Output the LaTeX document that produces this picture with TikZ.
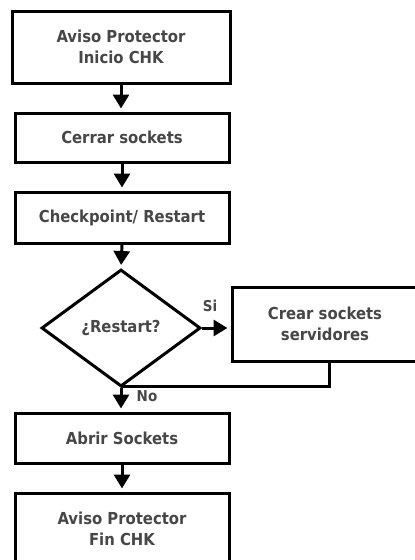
\documentclass[tikz,border=0pt]{standalone}
\usepackage{fontspec}
\setmainfont{DejaVu Sans}[FakeStretch=0.9]
\usetikzlibrary{shapes.geometric,arrows.meta}
\begin{document}
\begin{tikzpicture}[x=1pt,y=-1pt,
  every node/.style={font=\fontsize{16.5}{21.5}\selectfont\bfseries, text=black!72},
  procbox/.style={draw=black, line width=3pt, fill=white, align=center, inner sep=0pt},
  decis/.style={draw=black, line width=3pt, diamond, inner sep=0pt, aspect=1.36, minimum width=159pt, minimum height=117pt},
  flow/.style={draw=black, line width=3pt, shorten >=3pt, -{Triangle[length=14pt,width=16pt]}},
  plain/.style={draw=black, line width=3pt},
  lbl/.style={font=\fontsize{15}{17}\selectfont\bfseries}]
\useasboundingbox (0,0) rectangle (415,560);
\fill[white] (0,0) rectangle (415,560);
\clip (0,0) rectangle (415,560);
\node[procbox, minimum width=218pt, minimum height=72pt] (b1) at (121,47) {Aviso Protector\\Inicio CHK};
\node[procbox, minimum width=214pt, minimum height=49pt] (b2) at (122,137.5) {Cerrar sockets};
\node[procbox, minimum width=214pt, minimum height=51pt] (b3) at (122,217.5) {Checkpoint/ Restart};
\node[decis] (d) at (121,328) {};
\node at (121,328) {¿Restart?};
\node[procbox, minimum width=186pt, minimum height=74pt] (c) at (325,324) {Crear sockets\\servidores};
\node[procbox, minimum width=214pt, minimum height=50pt] (b5) at (122,438) {Abrir Sockets};
\node[procbox, minimum width=214pt, minimum height=72pt] (b6) at (122,529) {Aviso Protector\\Fin CHK};
\coordinate (r1) at (329,386);
\coordinate (r0) at (121,386);
\draw[flow] (b1.south) -- (b1.south |- b2.north);
\draw[flow] (b2.south) -- (b2.south |- b3.north);
\draw[flow] (b3.south) -- (d.north);
\draw[flow] (d.east) -- (c.west |- d.east);
\draw[plain] (c.south -| r1) -- (r1) -- (r0);
\draw[flow] (d.south) -- (d.south |- b5.north);
\draw[flow] (b5.south) -- (b6.north);
\node[lbl] (si) at (210,306) {Si};
\node[lbl] (no) at (147,396) {No};
\end{tikzpicture}
\end{document}
